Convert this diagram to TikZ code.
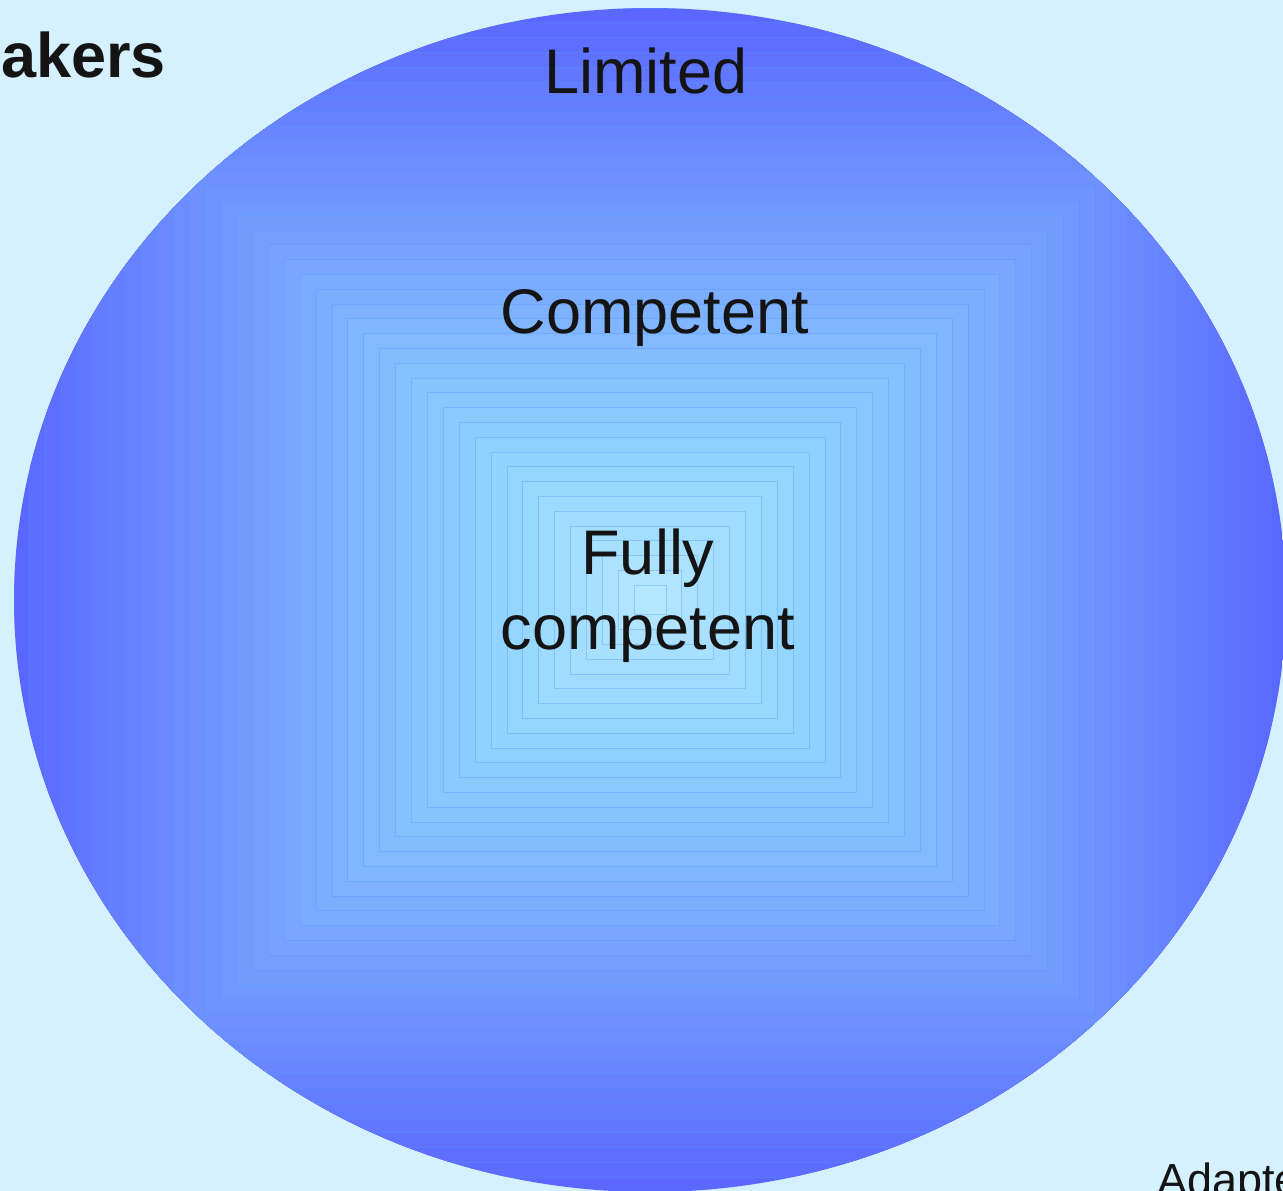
\documentclass[tikz,border=0pt]{standalone}
\usepackage{fontspec}
\setmainfont{Liberation Sans}
\definecolor{lvback}{RGB}{213,240,255}
\definecolor{lvedge}{RGB}{90,104,255}
\definecolor{lvmid}{RGB}{126,178,255}
\definecolor{lvinner}{RGB}{144,212,255}
\definecolor{lvcenter}{RGB}{184,232,255}
\definecolor{lvline}{RGB}{80,150,255}
\definecolor{lvtext}{RGB}{20,20,20}
\begin{document}
\begin{tikzpicture}
        [   x = 1pt
        ,   y = -1pt
        ,   lvlabel/.style =
            {   font = \fontsize{63}{75}\selectfont
            ,   text = lvtext
            ,   inner sep = 0pt
            ,   align = center
            }
        ,   band/.style =
            {   fill = #1
            ,   draw = lvline
            ,   draw opacity = 0.35
            ,   line width = 0.8pt
            }
        ]
        \useasboundingbox (0,0) rectangle (1283,1191);
        \clip (0,0) rectangle (1283,1191);
        \fill[lvback] (0,0) rectangle (1283,1191);
        % rings of the ellipse, from the rim inwards
        \begin{scope}
            \clip (650,600) ellipse [x radius = 636, y radius = 592];
            \foreach \k
                [   evaluate = \k as \t using 1-\k*0.025
                ,   evaluate = \k as \p using 100-\k*5
                ] in {0,...,19}
                \filldraw[band = lvedge!\p!lvmid]
                    (650-\t*636,600-\t*592) rectangle (650+\t*636,600+\t*592);
            \foreach \k
                [   evaluate = \k as \t using 0.5-\k*0.025
                ,   evaluate = \k as \p using 100-\k*10
                ] in {0,...,9}
                \filldraw[band = lvmid!\p!lvinner]
                    (650-\t*636,600-\t*592) rectangle (650+\t*636,600+\t*592);
            \foreach \k
                [   evaluate = \k as \t using 0.25-\k*0.025
                ,   evaluate = \k as \p using 100-\k*10
                ] in {0,...,9}
                \filldraw[band = lvinner!\p!lvcenter]
                    (650-\t*636,600-\t*592) rectangle (650+\t*636,600+\t*592);
        \end{scope}
        \node[lvlabel, anchor = base] (limited) at (646,93) {Limited};
        \node[lvlabel, anchor = base] (competent) at (655,333) {Competent};
        \node[lvlabel] (full) at (648,596) {Fully\\competent};
        \node[lvlabel, anchor = base west, font = \fontsize{63}{75}\selectfont\bfseries]
            (speakers) at (1,77) {akers};
        \node[lvlabel, anchor = base west, font = \fontsize{45}{54}\selectfont]
            (adapted) at (1157,1195) {Adapte};
    \end{tikzpicture}
\end{document}
